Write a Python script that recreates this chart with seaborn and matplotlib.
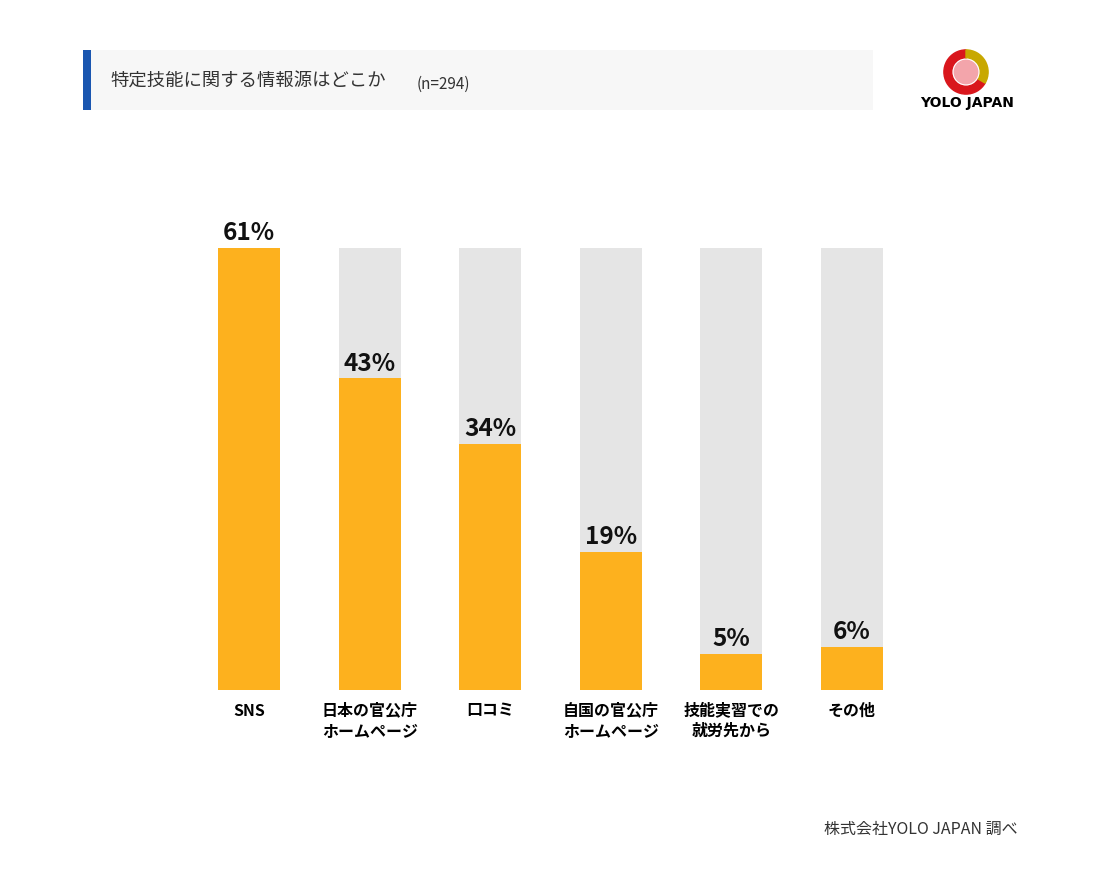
import matplotlib
matplotlib.use("Agg")
import matplotlib.pyplot as plt
from matplotlib.patches import Rectangle, Wedge, Circle
import pandas as pd
import seaborn as sns

plt.rcParams["font.family"] = "Noto Sans CJK JP"

categories = ["SNS", "日本の官公庁\nホームページ", "口コミ", "自国の官公庁\nホームページ", "技能実習での\n就労先から", "その他"]
values = [61, 43, 34, 19, 5, 6]
full_scale = 61

W, H = 1100, 886
fig = plt.figure(figsize=(W / 100, H / 100), dpi=100)

# title band
fig.patches.append(Rectangle((83 / W, 1 - 110 / H), 790 / W, 60 / H, transform=fig.transFigure,
                             facecolor="#f7f7f7", edgecolor="none"))
fig.patches.append(Rectangle((83 / W, 1 - 110 / H), 8 / W, 60 / H, transform=fig.transFigure,
                             facecolor="#1a56b0", edgecolor="none"))
fig.text(110 / W, 1 - 82 / H, "特定技能に関する情報源はどこか", fontsize=13.2, color="#333333", va="center")
fig.text(417 / W, 1 - 84 / H, "(n=294)", fontsize=11, color="#333333", va="center")

# logo
lax = fig.add_axes([940 / W, 1 - 98 / H, 52 / W, 52 / H])
lax.set_xlim(-1, 1); lax.set_ylim(-1, 1); lax.set_aspect("equal"); lax.axis("off")
lax.add_patch(Wedge((0, 0), 0.85, 90, 330, width=0.3, color="#d9161c"))
lax.add_patch(Wedge((0, 0), 0.85, 330, 90, width=0.3, color="#c8a800"))
lax.add_patch(Circle((0, 0), 0.45, color="#f3a5ab"))
fig.text(967 / W, 1 - 103 / H, "YOLO JAPAN", fontsize=10, fontweight="bold", ha="center", va="center",
         family="DejaVu Sans")

df = pd.DataFrame({"cat": categories, "val": values, "bg": [full_scale] * len(values)})

ax = fig.add_axes([189 / W, (H - 690) / H, 723 / W, 442 / H])
sns.barplot(data=df, x="cat", y="bg", color="#e5e5e5", width=0.515, saturation=1, ax=ax)
sns.barplot(data=df, x="cat", y="val", color="#fdb11e", width=0.515, saturation=1, ax=ax)
ax.set_ylim(0, full_scale)
ax.set_xlim(-0.5, len(values) - 0.5)
for i, v in enumerate(values):
    ax.text(i, v + 0.4, f"{v}%", ha="center", va="bottom", fontsize=17.5, fontweight="bold", color="#111111")
ax.set_xlabel(""); ax.set_ylabel("")
ax.set_yticks([])
ax.tick_params(axis="x", length=0, pad=9)
ax.set_xticks(range(len(categories)))
ax.set_xticklabels(categories, fontsize=11.5, fontweight="bold", va="top", linespacing=1.35)
for s in ax.spines.values():
    s.set_visible(False)

fig.text(1018 / W, 1 - 829 / H, "株式会社YOLO JAPAN 調べ", fontsize=11.5, ha="right", va="center", color="#333333")

fig.savefig("out.png", dpi=100, facecolor="white")
